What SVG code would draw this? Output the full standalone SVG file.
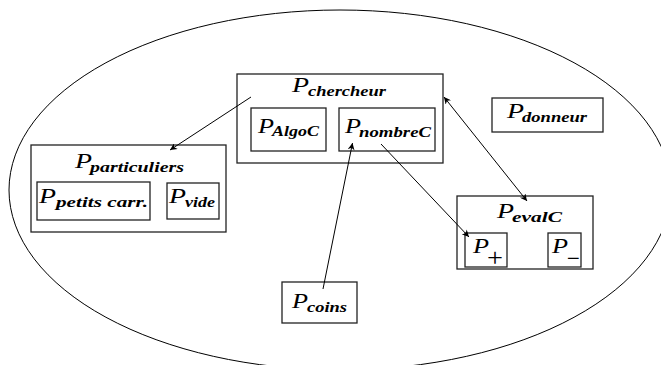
<svg xmlns="http://www.w3.org/2000/svg" width="661" height="365" viewBox="0 0 661 365">
<style>
.b{fill:none;stroke:#222;stroke-width:1.3}
.P{font-family:"Liberation Serif",serif;font-style:italic;font-size:21px;fill:#000}
.s{font-family:"Liberation Serif",serif;font-style:italic;font-weight:bold;font-size:15px;fill:#000}
.o{font-family:"Liberation Serif",serif;font-size:26px;fill:#000}
.c{fill:none;stroke:#000;stroke-width:1}
</style>
<defs>
<marker id="ah" viewBox="0 0 10 10" refX="10" refY="5" markerWidth="10" markerHeight="7" markerUnits="userSpaceOnUse" orient="auto-start-reverse">
<path d="M0,0 L10,5 L0,10 L3,5 z" fill="#000"/>
</marker>
</defs>
<ellipse id="world" cx="340" cy="190" rx="331" ry="180" fill="none" stroke="#000" stroke-width="1"/>
<g id="chercheur">
<rect class="b" x="237" y="74" width="206" height="89"/>
<text class="P" x="292" y="92" textLength="17" lengthAdjust="spacingAndGlyphs">P</text>
<text class="s" x="308" y="96" textLength="78" lengthAdjust="spacingAndGlyphs">chercheur</text>
</g>
<g id="algoc">
<rect class="b" x="251" y="108" width="75" height="43"/>
<text class="P" x="258" y="133" textLength="16" lengthAdjust="spacingAndGlyphs">P</text>
<text class="s" x="272" y="136" textLength="47" lengthAdjust="spacingAndGlyphs">AlgoC</text>
</g>
<g id="nombrec">
<rect class="b" x="339" y="108" width="96" height="43"/>
<text class="P" x="345" y="133" textLength="16" lengthAdjust="spacingAndGlyphs">P</text>
<text class="s" x="359" y="137" textLength="72" lengthAdjust="spacingAndGlyphs">nombreC</text>
</g>
<g id="particuliers">
<rect class="b" x="31" y="145" width="195" height="87"/>
<text class="P" x="75" y="168" textLength="17" lengthAdjust="spacingAndGlyphs">P</text>
<text class="s" x="90" y="172" textLength="94" lengthAdjust="spacingAndGlyphs">particuliers</text>
</g>
<g id="petits">
<rect class="b" x="37" y="182" width="113" height="38"/>
<text class="P" x="39" y="203" textLength="17" lengthAdjust="spacingAndGlyphs">P</text>
<text class="s" x="56" y="207" textLength="92" lengthAdjust="spacingAndGlyphs">petits carr.</text>
</g>
<g id="vide">
<rect class="b" x="167" y="183" width="52" height="36"/>
<text class="P" x="169" y="203" textLength="17" lengthAdjust="spacingAndGlyphs">P</text>
<text class="s" x="185" y="207" textLength="30" lengthAdjust="spacingAndGlyphs">vide</text>
</g>
<g id="donneur">
<rect class="b" x="492" y="98" width="111" height="34"/>
<text class="P" x="507" y="118" textLength="17" lengthAdjust="spacingAndGlyphs">P</text>
<text class="s" x="522" y="122" textLength="65" lengthAdjust="spacingAndGlyphs">donneur</text>
</g>
<g id="evalc">
<rect class="b" x="457" y="196" width="136" height="73"/>
<text class="P" x="497" y="218" textLength="17" lengthAdjust="spacingAndGlyphs">P</text>
<text class="s" x="512" y="222" textLength="50" lengthAdjust="spacingAndGlyphs">evalC</text>
</g>
<g id="plus">
<rect class="b" x="465" y="233" width="42" height="34"/>
<text class="P" x="473" y="253" textLength="16" lengthAdjust="spacingAndGlyphs">P</text>
<text class="o" x="487" y="266" textLength="16" lengthAdjust="spacingAndGlyphs">+</text>
</g>
<g id="minus">
<rect class="b" x="548" y="233" width="33" height="34"/>
<text class="P" x="552" y="253" textLength="16" lengthAdjust="spacingAndGlyphs">P</text>
<text class="o" x="567" y="267" textLength="13" lengthAdjust="spacingAndGlyphs">−</text>
</g>
<g id="coins">
<rect class="b" x="282" y="282" width="75" height="41"/>
<text class="P" x="292" y="308" textLength="16" lengthAdjust="spacingAndGlyphs">P</text>
<text class="s" x="307" y="312" textLength="40" lengthAdjust="spacingAndGlyphs">coins</text>
</g>
<g id="connectors">
<line class="c" x1="251" y1="97" x2="170" y2="150" marker-end="url(#ah)"/>
<line class="c" x1="444" y1="97" x2="527" y2="201" marker-start="url(#ah)" marker-end="url(#ah)"/>
<line class="c" x1="381" y1="144" x2="469" y2="237" marker-end="url(#ah)"/>
<line class="c" x1="323" y1="289" x2="352.5" y2="143" marker-end="url(#ah)"/>
</g>
</svg>
